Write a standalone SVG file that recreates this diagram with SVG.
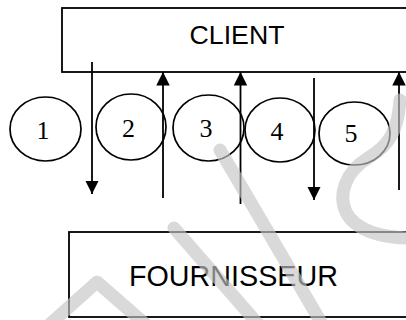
<svg xmlns="http://www.w3.org/2000/svg" width="406" height="320" viewBox="0 0 406 320">
<style>
.box{fill:#fff;stroke:#000;stroke-width:1.8}
.lbl{font-family:"Liberation Sans",Arial,sans-serif;fill:#000;text-anchor:middle}
.circ{fill:none;stroke:#000;stroke-width:1.7}
.num{font-family:"Liberation Serif","Times New Roman",serif;font-size:26px;fill:#000;text-anchor:middle}
.ar{stroke:#000;stroke-width:1.8;fill:none}
.wm{fill:none;stroke:#c4c4c4;stroke-width:13;stroke-linecap:round;stroke-linejoin:round;opacity:0.65}
</style>
<defs>
<marker id="ah" viewBox="0 0 10 10" refX="10" refY="5" markerWidth="7.5" markerHeight="7.5" markerUnits="strokeWidth" orient="auto">
<path d="M0,0 L10,5 L0,10 Z" fill="#000"/>
</marker>
</defs>
<rect width="406" height="320" fill="#fff"/>
<g id="client">
<rect class="box" x="62" y="8" width="360" height="64"/>
<text class="lbl" x="237" y="44" font-size="25" textLength="95" lengthAdjust="spacingAndGlyphs">CLIENT</text>
</g>
<g id="fournisseur">
<rect class="box" x="69" y="232" width="360" height="85"/>
<text class="lbl" x="233.5" y="286" font-size="30" textLength="209" lengthAdjust="spacingAndGlyphs">FOURNISSEUR</text>
</g>
<g id="step1"><ellipse class="circ" cx="45.5" cy="129" rx="35.5" ry="32"/><text class="num" x="43" y="139">1</text></g>
<g id="step2"><ellipse class="circ" cx="131" cy="127" rx="35" ry="33"/><text class="num" x="128.5" y="137">2</text></g>
<g id="step3"><ellipse class="circ" cx="208.5" cy="128" rx="35.5" ry="33"/><text class="num" x="206" y="137">3</text></g>
<g id="step4"><ellipse class="circ" cx="280" cy="130" rx="35" ry="32"/><text class="num" x="277" y="140">4</text></g>
<g id="step5"><ellipse class="circ" cx="354.5" cy="133.5" rx="35.5" ry="31.5"/><text class="num" x="351" y="142">5</text></g>
<g id="connectors">
<line class="ar" x1="92" y1="62" x2="92" y2="194" marker-end="url(#ah)"/>
<line class="ar" x1="163" y1="198" x2="163" y2="72" marker-end="url(#ah)"/>
<line class="ar" x1="240.5" y1="204" x2="240.5" y2="72" marker-end="url(#ah)"/>
<line class="ar" x1="314" y1="78" x2="314" y2="200" marker-end="url(#ah)"/>
<line class="ar" x1="399" y1="190" x2="399" y2="72" marker-end="url(#ah)"/>
</g>
<g id="watermark">
<path class="wm" d="M50 324 L97 282 L145 324"/>
<path class="wm" d="M174 228 L258 324"/>
<path class="wm" d="M220 150 L322 324"/>
<path class="wm" d="M400 100 C398 130 390 145 368 158 C345 172 338 195 346 212 C356 232 385 238 410 238"/>
</g>
</svg>
